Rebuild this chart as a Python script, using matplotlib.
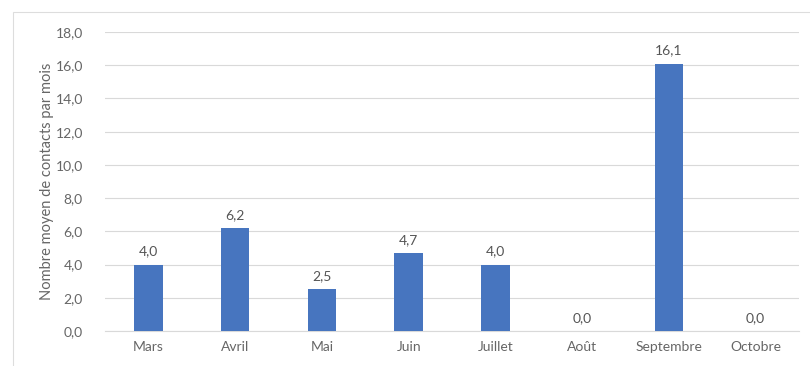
import matplotlib
matplotlib.use("Agg")
import matplotlib.pyplot as plt
from matplotlib.patches import Rectangle

categories = ["Mars", "Avril", "Mai", "Juin", "Juillet", "Août", "Septembre", "Octobre"]
values = [4.0, 6.2, 2.5, 4.7, 4.0, 0.0, 16.1, 0.0]
yticks = [0, 2, 4, 6, 8, 10, 12, 14, 16, 18]
ylabel = "Nombre moyen de contacts par mois"

plt.rcParams['font.family'] = ['Lato', 'DejaVu Sans']
txt = "#666666"

W, H = 810, 366
fig = plt.figure(figsize=(W / 100, H / 100), dpi=100)
fig.patches.append(Rectangle((12.5 / W, -5 / H), (830 - 12.5) / W, (366 - 12 + 5) / H,
                             transform=fig.transFigure, fill=False,
                             edgecolor="#dddddd", linewidth=0.8))
ax = fig.add_axes([105 / W, 1 - 331 / H, (799 - 105) / W, (331 - 32) / H])

x = list(range(len(categories)))
ax.bar(x, values, width=0.33, color="#4775BF", zorder=3)
for xi, v in zip(x, values):
    ax.annotate(f"{v:.1f}".replace(".", ","), (xi, v), xytext=(0, 5),
                textcoords="offset points", ha="center", va="bottom",
                fontsize=10, color="#555555")

ax.set_xlim(-0.5, len(categories) - 0.5)
ax.set_ylim(0, 18)
ax.set_yticks(yticks)
ax.set_yticklabels([f"{t:.1f}".replace(".", ",") for t in yticks])
ax.set_xticks(x)
ax.set_xticklabels(categories)
ax.grid(axis="y", color="#d9d9d9", linewidth=0.8, zorder=0)
for s in ["top", "right", "left"]:
    ax.spines[s].set_visible(False)
ax.spines["bottom"].set_color("#d9d9d9")
ax.tick_params(axis="both", length=0, colors=txt, labelsize=10)
ax.tick_params(axis="y", pad=16)
ax.tick_params(axis="x", pad=7)
ax.set_ylabel(ylabel, color=txt, fontsize=10.5, labelpad=1)

fig.savefig("out.png", dpi=100)
